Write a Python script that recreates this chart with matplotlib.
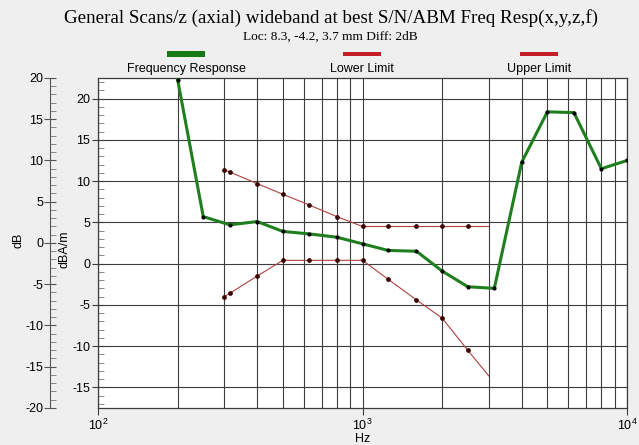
import matplotlib.pyplot as plt
from matplotlib.patches import Rectangle
from matplotlib.ticker import FixedLocator, MultipleLocator, NullFormatter

# Measured response, 1/3-octave bands (dBA/m)
freq = [200, 250, 315, 400, 500, 630, 800, 1000, 1250, 1600, 2000, 2500, 3150,
        4000, 5000, 6300, 8000, 10000]
response = [22.3, 5.7, 4.7, 5.1, 3.9, 3.6, 3.2, 2.4, 1.6, 1.5, -0.9, -2.8, -3.0,
            12.3, 18.4, 18.3, 11.5, 12.5]

# Tolerance mask
limit_freq = [300, 315, 400, 500, 630, 800, 1000, 1250, 1600, 2000, 2500, 3000]
upper_limit = [11.4, 11.1, 9.7, 8.4, 7.1, 5.7, 4.5, 4.5, 4.5, 4.5, 4.5, 4.5]
lower_limit = [-4.0, -3.6, -1.5, 0.4, 0.4, 0.4, 0.4, -1.9, -4.4, -6.6, -10.5, -13.6]

plt.rcParams['font.family'] = ['Liberation Sans', 'DejaVu Sans']
plt.rcParams['font.size'] = 9
plt.rcParams['axes.unicode_minus'] = False

W, H = 639, 445
fig = plt.figure(figsize=(W / 100, H / 100), dpi=100, facecolor='#efefef')
x0, x1, y0, y1 = 98, 627, 78, 408
ax = fig.add_axes([x0 / W, 1 - y1 / H, (x1 - x0) / W, (y1 - y0) / H])
ax.set_facecolor('white')

grid_c = '#3c3c3c'
ax.set_xscale('log')
ax.set_xlim(100, 10000)
ax.set_ylim(-17.5, 22.5)
ax.xaxis.set_major_locator(FixedLocator([100, 1000, 10000]))
ax.xaxis.set_minor_locator(FixedLocator([m * d for d in (100, 1000) for m in range(2, 10)]))
ax.xaxis.set_minor_formatter(NullFormatter())
ax.yaxis.set_major_locator(MultipleLocator(5))
ax.yaxis.set_minor_locator(MultipleLocator(1))
ax.grid(True, which='major', color=grid_c, lw=0.8)
ax.grid(True, which='minor', axis='x', color=grid_c, lw=0.8)
ax.tick_params(axis='x', which='major', direction='out', length=5, color=grid_c, pad=2)
ax.tick_params(axis='x', which='minor', length=0)
ax.tick_params(axis='y', which='major', direction='inout', length=9, color=grid_c, pad=1)
ax.tick_params(axis='y', which='minor', direction='in', length=4, color='#777777')
for s in ax.spines.values():
    s.set_color(grid_c)
    s.set_linewidth(0.9)

ax.plot(limit_freq, upper_limit, color='#b04040', lw=0.8, zorder=3)
ax.plot(limit_freq[:-1], upper_limit[:-1], 'o', color='#3a0000', ms=2.4, zorder=4)
ax.plot(limit_freq, lower_limit, color='#b04040', lw=0.8, zorder=3)
ax.plot(limit_freq[:-1], lower_limit[:-1], 'o', color='#3a0000', ms=2.4, zorder=4)
ax.plot(freq, response, color='#1f7f1f', lw=2.2, zorder=5)
ax.plot(freq, response, 'o', color='black', ms=2.0, zorder=6)

ax.set_xlabel('Hz', labelpad=0)
ax.set_ylabel('dBA/m')
ax.yaxis.set_label_coords(-28 / (x1 - x0), (408 - 249) / (y1 - y0))

# Outer dB scale, offset from the dBA/m scale
db = ax.secondary_yaxis(-48 / (x1 - x0), functions=(lambda y: y - 2.5, lambda y: y + 2.5))
db.set_yticks(range(-20, 21, 5))
db.yaxis.set_minor_locator(MultipleLocator(1))
db.tick_params(which='major', direction='inout', length=8, color='#555555', pad=1)
db.tick_params(which='minor', direction='in', length=4, color='#777777')
db.spines['left'].set_color('#555555')
fig.text(18 / W, 1 - 240 / H, 'dB', rotation=90, ha='center', va='center')

fig.text(331 / W, 1 - 18 / H,
         'General Scans/z (axial) wideband at best S/N/ABM Freq Resp(x,y,z,f)',
         ha='center', va='center', family='Liberation Serif', fontsize=13.7)
fig.text(330 / W, 1 - 37 / H, 'Loc: 8.3, -4.2, 3.7 mm Diff: 2dB',
         ha='center', va='center', family='Liberation Serif', fontsize=9.6)

# Legend: swatch above each label
legend = [('Frequency Response', '#157a15', 186, 6),
          ('Lower Limit', '#c21f28', 362, 4),
          ('Upper Limit', '#c21f28', 539, 4)]
for label, color, cx, h in legend:
    fig.add_artist(Rectangle(((cx - 19) / W, 1 - (54 + h / 2) / H), 38 / W, h / H,
                             transform=fig.transFigure, color=color, lw=0))
    fig.text(cx / W, 1 - 69 / H, label, ha='center', va='center', fontsize=9)

fig.savefig('out.png', dpi=100, facecolor=fig.get_facecolor())
